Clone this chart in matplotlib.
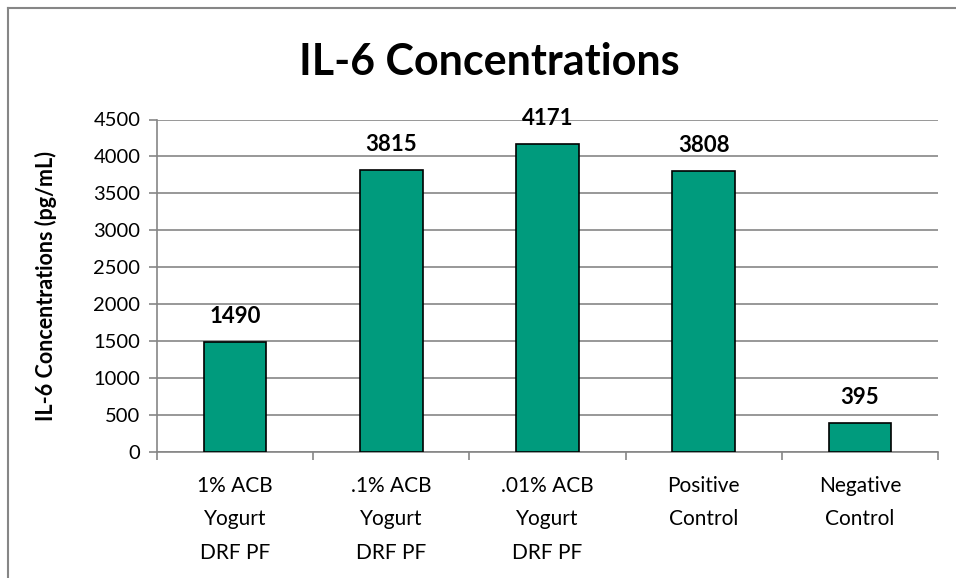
import numpy as np
import matplotlib.pyplot as plt
from matplotlib.lines import Line2D

plt.rcParams['font.family'] = ['Lato', 'DejaVu Sans']

categories = ["1% ACB\nYogurt\nDRF PF", ".1% ACB\nYogurt\nDRF PF",
              ".01% ACB\nYogurt\nDRF PF", "Positive\nControl", "Negative\nControl"]
values = [1490, 3815, 4171, 3808, 395]
y_ticks = [0, 500, 1000, 1500, 2000, 2500, 3000, 3500, 4000, 4500]

BAR = "#009B7D"
GRID = "#868686"

W, H = 956, 578
fig = plt.figure(figsize=(W / 100, H / 100), dpi=100)
# plot area in pixels: x 157..938, y 119.5..452
ax = fig.add_axes([157 / W, 1 - 452 / H, (938 - 157) / W, (452 - 119.5) / H])

x = np.arange(len(values))
ax.bar(x, values, width=0.4, color=BAR, edgecolor="black", linewidth=1.2, zorder=3)
for xi, v in zip(x, values):
    ax.text(xi, v + 200, f"{v}", ha="center", va="bottom",
            fontsize=16, fontweight="bold", zorder=4)

ax.set_xlim(-0.5, len(values) - 0.5)
ax.set_ylim(0, 4500)
ax.set_yticks(y_ticks)
ax.set_yticklabels([str(t) for t in y_ticks], fontsize=14.5)
ax.yaxis.grid(True, color=GRID, linewidth=1.2, zorder=0)

# category boundary ticks on x axis
ax.set_xticks(np.arange(-0.5, len(values), 1.0))
ax.set_xticklabels([])
ax.set_xticks(x, minor=True)
ax.set_xticklabels(categories, minor=True, fontsize=15, linespacing=1.85)
ax.tick_params(axis="x", which="minor", length=0, pad=17)
ax.tick_params(axis="x", which="major", length=6, color=GRID, width=1.2)
ax.tick_params(axis="y", length=6, color=GRID, width=1.2, pad=6)

for side in ["top", "right"]:
    ax.spines[side].set_visible(False)
for side in ["left", "bottom"]:
    ax.spines[side].set_color(GRID)
    ax.spines[side].set_linewidth(1.2)

ax.set_ylabel("IL-6 Concentrations (pg/mL)", fontsize=15.5, fontweight="bold")
ax.yaxis.set_label_coords(-100 / (938 - 157), 0.5)

fig.text(489 / W, 1 - 62 / H, "IL-6 Concentrations", ha="center", va="center",
         fontsize=31, fontweight="bold")

# outer chart frame (left and top edges visible)
fig.add_artist(Line2D([7.5 / W, 7.5 / W], [0, 1 - 8 / H], color=GRID, linewidth=1.5))
fig.add_artist(Line2D([7.5 / W, 1], [1 - 8 / H, 1 - 8 / H], color=GRID, linewidth=1.5))

fig.savefig("out.png", dpi=100)
